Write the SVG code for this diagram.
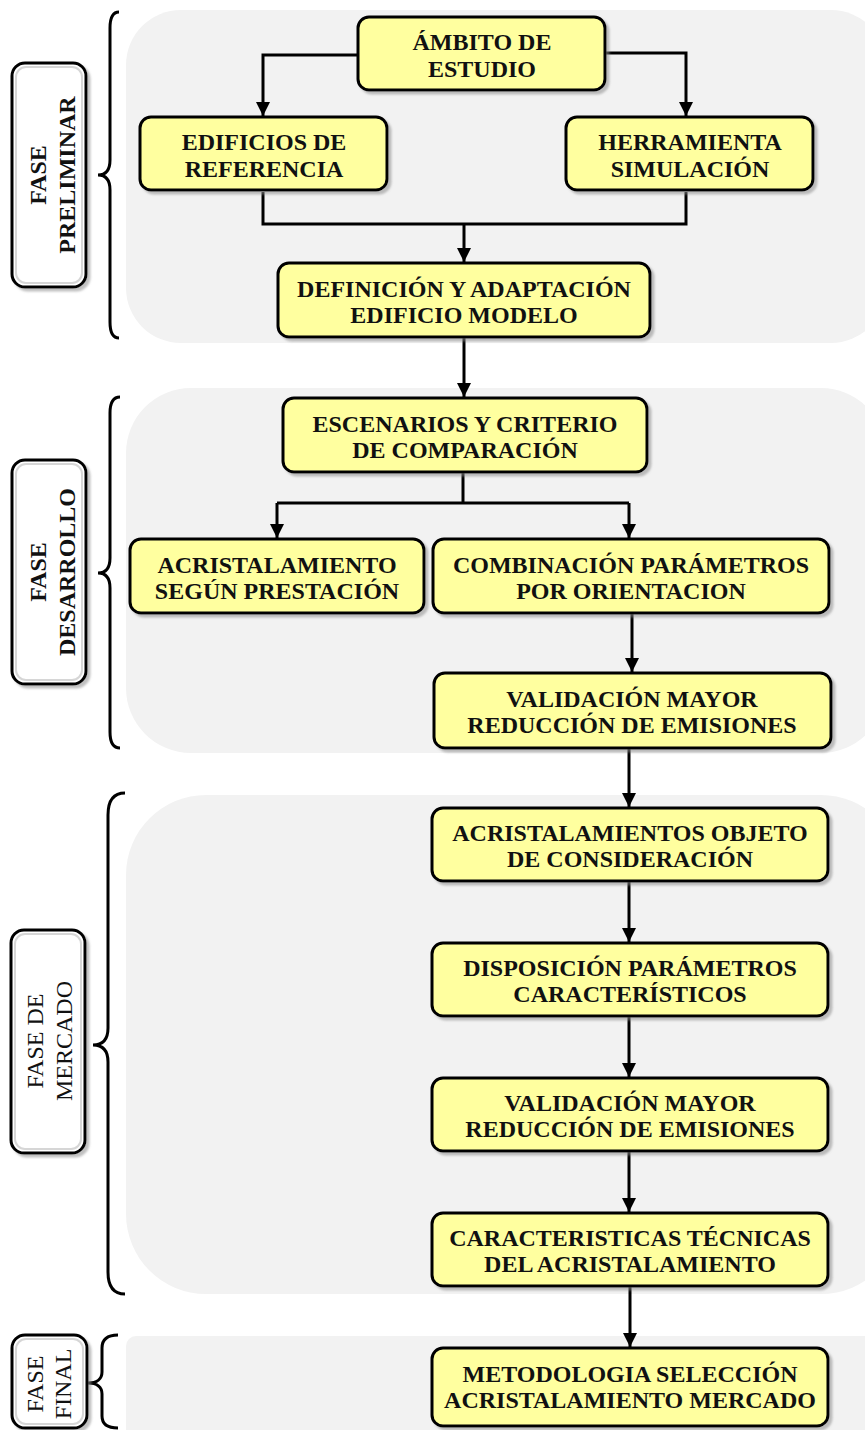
<svg xmlns="http://www.w3.org/2000/svg" width="865" height="1430" viewBox="0 0 865 1430">
  <defs>
    <filter id="shadow" x="-10%" y="-10%" width="130%" height="140%">
      <feDropShadow dx="3" dy="3" stdDeviation="1.2" flood-color="#8c8c8c" flood-opacity="0.55"/>
    </filter>
    <marker id="arrow" viewBox="0 0 14 14" refX="14" refY="7" markerWidth="14" markerHeight="14" markerUnits="userSpaceOnUse" orient="auto">
      <path d="M0,0 L14,7 L0,14 Z" fill="#000"/>
    </marker>
    <style>
      .panel { fill: #f2f2f2; }
      .brace { fill: none; stroke: #000; stroke-width: 3; }
      .label rect.box { fill: #fff; stroke: #000; stroke-width: 3; filter: url(#shadow); }
      .label rect.inner { fill: none; stroke: #d6d6d6; stroke-width: 2; }
      .label text { font-family: "Liberation Serif", "Times New Roman", serif; font-size: 24px; fill: #111; text-anchor: middle; }
      .label text.b { font-weight: bold; }
      .node rect { fill: #ffff9f; stroke: #000; stroke-width: 3; filter: url(#shadow); }
      .node text { font-family: "Liberation Serif", "Times New Roman", serif; font-size: 24px; font-weight: bold; fill: #111; text-anchor: middle; }
      .conn path { fill: none; stroke: #000; stroke-width: 3; }
      .conn path.arr { marker-end: url(#arrow); }
    </style>
  </defs>

  <!-- phase backgrounds -->
  <g id="panels">
    <rect class="panel" x="126" y="10" width="760" height="333" rx="55"/>
    <rect class="panel" x="126" y="388" width="760" height="365" rx="65"/>
    <rect class="panel" x="126" y="795" width="775" height="499" rx="80"/>
    <rect class="panel" x="126" y="1336" width="760" height="120" rx="10"/>
  </g>

  <!-- braces -->
  <g id="braces">
    <path class="brace" d="M119,12 C112,12 110,18 110,28 V160 C110,170 106,175 98,175 C106,175 110,180 110,190 V322 C110,332 112,338 119,338"/>
    <path class="brace" d="M120,397 C113,397 110,403 110,413 V558 C110,568 106,573 98,573 C106,573 110,578 110,588 V732 C110,742 113,748 120,748"/>
    <path class="brace" d="M125,793 C114,793 108,800 108,815 V1028 C108,1040 102,1045 93,1045 C102,1045 108,1050 108,1062 V1272 C108,1287 114,1294 125,1294"/>
    <path class="brace" d="M118,1335 C108,1335 102,1339 102,1348 V1372 C102,1379 97,1383 88,1383 C97,1383 102,1387 102,1394 V1416 C102,1424 108,1428 118,1428"/>
  </g>

  <!-- phase labels -->
  <g id="label-preliminar" class="label">
    <rect class="box" x="12" y="63" width="74" height="224" rx="13"/>
    <rect class="inner" x="16" y="67" width="66" height="216" rx="10"/>
    <g transform="translate(0,175) rotate(-90)">
      <text class="b" x="0" y="46">FASE</text>
      <text class="b" x="0" y="75">PRELIMINAR</text>
    </g>
  </g>
  <g id="label-desarrollo" class="label">
    <rect class="box" x="12" y="460" width="74" height="224" rx="13"/>
    <rect class="inner" x="16" y="464" width="66" height="216" rx="10"/>
    <g transform="translate(0,572) rotate(-90)">
      <text class="b" x="0" y="46">FASE</text>
      <text class="b" x="0" y="75">DESARROLLO</text>
    </g>
  </g>
  <g id="label-mercado" class="label">
    <rect class="box" x="11" y="930" width="74" height="223" rx="13"/>
    <rect class="inner" x="15" y="934" width="66" height="215" rx="10"/>
    <g transform="translate(0,1041) rotate(-90)">
      <text x="0" y="43">FASE DE</text>
      <text x="0" y="72">MERCADO</text>
    </g>
  </g>
  <g id="label-final" class="label">
    <rect class="box" x="12" y="1335" width="75" height="93" rx="13"/>
    <rect class="inner" x="16" y="1339" width="67" height="85" rx="10"/>
    <g transform="translate(0,1384) rotate(-90)">
      <text x="0" y="43">FASE</text>
      <text x="0" y="71">FINAL</text>
    </g>
  </g>

  <!-- connectors -->
  <g id="connectors" class="conn">
    <path class="arr" d="M358,55 H263 V116"/>
    <path class="arr" d="M605,53 H686 V116"/>
    <path d="M263,192 V224 H686 V192"/>
    <path class="arr" d="M464,224 V262"/>
    <path class="arr" d="M464,338 V397"/>
    <path d="M463,473 V503"/>
    <path d="M277,503 H629"/>
    <path class="arr" d="M277,503 V538"/>
    <path class="arr" d="M629,503 V538"/>
    <path class="arr" d="M632,614 V672"/>
    <path class="arr" d="M629,749 V807"/>
    <path class="arr" d="M629,882 V942"/>
    <path class="arr" d="M629,1017 V1077"/>
    <path class="arr" d="M629,1152 V1212"/>
    <path class="arr" d="M630,1287 V1347"/>
  </g>

  <!-- nodes -->
  <g id="n-ambito" class="node">
    <rect x="358" y="17" width="247" height="73" rx="11"/>
    <text x="482" y="50">ÁMBITO DE</text>
    <text x="482" y="77">ESTUDIO</text>
  </g>
  <g id="n-edificios" class="node">
    <rect x="140" y="117" width="247" height="73" rx="11"/>
    <text x="264" y="150">EDIFICIOS DE</text>
    <text x="264" y="177">REFERENCIA</text>
  </g>
  <g id="n-herramienta" class="node">
    <rect x="566" y="117" width="247" height="73" rx="11"/>
    <text x="690" y="150">HERRAMIENTA</text>
    <text x="690" y="177">SIMULACIÓN</text>
  </g>
  <g id="n-definicion" class="node">
    <rect x="278" y="263" width="372" height="74" rx="11"/>
    <text x="464" y="297">DEFINICIÓN Y ADAPTACIÓN</text>
    <text x="464" y="323">EDIFICIO MODELO</text>
  </g>
  <g id="n-escenarios" class="node">
    <rect x="283" y="398" width="364" height="74" rx="11"/>
    <text x="465" y="432">ESCENARIOS Y CRITERIO</text>
    <text x="465" y="458">DE COMPARACIÓN</text>
  </g>
  <g id="n-acristalamiento" class="node">
    <rect x="130" y="539" width="294" height="74" rx="11"/>
    <text x="277" y="573">ACRISTALAMIENTO</text>
    <text x="277" y="599">SEGÚN PRESTACIÓN</text>
  </g>
  <g id="n-combinacion" class="node">
    <rect x="433" y="539" width="396" height="74" rx="11"/>
    <text x="631" y="573">COMBINACIÓN PARÁMETROS</text>
    <text x="631" y="599">POR ORIENTACION</text>
  </g>
  <g id="n-validacion-1" class="node">
    <rect x="434" y="673" width="397" height="75" rx="11"/>
    <text x="632" y="707">VALIDACIÓN MAYOR</text>
    <text x="632" y="733">REDUCCIÓN DE EMISIONES</text>
  </g>
  <g id="n-objeto" class="node">
    <rect x="432" y="808" width="396" height="73" rx="11"/>
    <text x="630" y="841">ACRISTALAMIENTOS OBJETO</text>
    <text x="630" y="867">DE CONSIDERACIÓN</text>
  </g>
  <g id="n-disposicion" class="node">
    <rect x="432" y="943" width="396" height="73" rx="11"/>
    <text x="630" y="976">DISPOSICIÓN PARÁMETROS</text>
    <text x="630" y="1002">CARACTERÍSTICOS</text>
  </g>
  <g id="n-validacion-2" class="node">
    <rect x="432" y="1078" width="396" height="73" rx="11"/>
    <text x="630" y="1111">VALIDACIÓN MAYOR</text>
    <text x="630" y="1137">REDUCCIÓN DE EMISIONES</text>
  </g>
  <g id="n-caracteristicas" class="node">
    <rect x="432" y="1213" width="396" height="73" rx="11"/>
    <text x="630" y="1246">CARACTERISTICAS TÉCNICAS</text>
    <text x="630" y="1272">DEL ACRISTALAMIENTO</text>
  </g>
  <g id="n-metodologia" class="node">
    <rect x="432" y="1348" width="396" height="78" rx="11"/>
    <text x="630" y="1382">METODOLOGIA SELECCIÓN</text>
    <text x="630" y="1408">ACRISTALAMIENTO MERCADO</text>
  </g>
</svg>
